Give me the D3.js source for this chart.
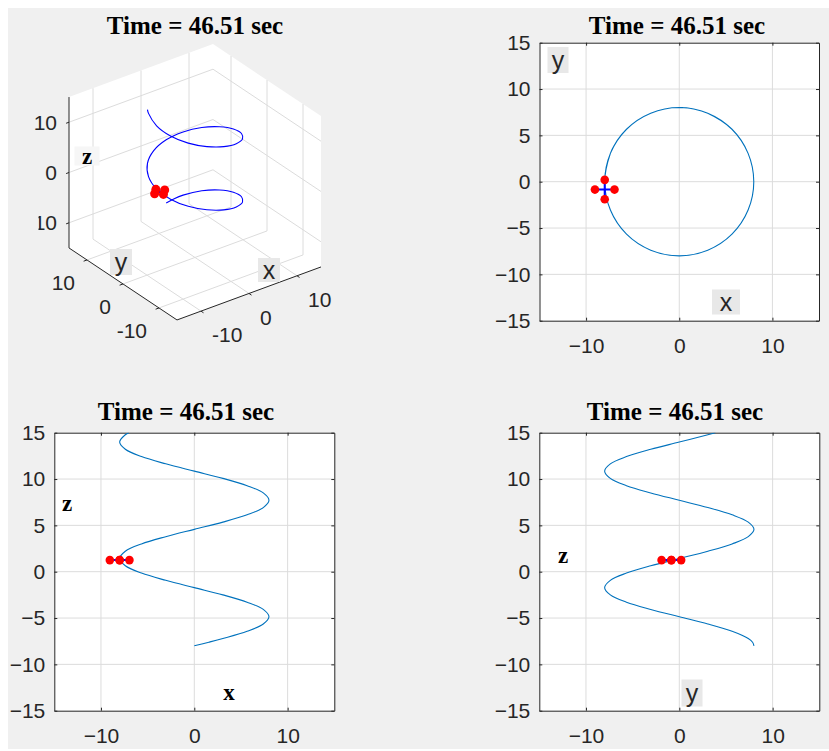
<!DOCTYPE html>
<html><head><meta charset="utf-8">
<script src="https://cdn.jsdelivr.net/npm/d3@7"></script>
<style>body{margin:0;background:#fff}svg{display:block}</style>
</head><body>
<script>
// ---------- data ----------
const trajX = [0, 1.56, 3.06, 5.66, 7.39, 8, 7.39, 5.66, 3.06, 0, -3.06, -5.66, -7.39, -8, -7.39, -5.66, -3.06, 0, 3.06, 5.66, 7.39, 8, 7.39, 5.66, 3.06, 0, -3.06, -5.66, -7.39, -8, -7.39, -7.0];
const trajY = [8, 7.85, 7.39, 5.66, 3.06, 0, -3.06, -5.66, -7.39, -8, -7.39, -5.66, -3.06, 0, 3.06, 5.66, 7.39, 8, 7.39, 5.66, 3.06, 0, -3.06, -5.66, -7.39, -8, -7.39, -5.66, -3.06, 0, 3.06, 3.87];
const trajZ = [-8.0, -7.61, -7.21, -6.43, -5.64, -4.86, -4.07, -3.29, -2.5, -1.72, -0.93, -0.15, 0.64, 1.42, 2.21, 3.0, 3.78, 4.57, 5.35, 6.14, 6.92, 7.71, 8.5, 9.28, 10.07, 10.85, 11.64, 12.42, 13.21, 13.99, 14.78, 15.0];
const rotorX = [-9.05, -6.95, -8.0, -8.0];
const rotorY = [-0.85, -0.85, 0.2, -1.9];
const rotorZ = [1.25, 1.25, 1.25, 1.25];
const titleText = "Time = 46.51 sec";
const limits = [-15, 15];
const hTicks = [-10, 0, 10];
const vTicks = [-15, -10, -5, 0, 5, 10, 15];
const ticks3D = [-10, 0, 10];

// ---------- styles ----------
const W = 829, H = 751;
const figBg = "#f0f0f0", axCol = "#262626", gridCol = "#dcdcdc";
const lineCol = "#0072bd", blue3D = "#0000ff", red = "#ff0000";
const tickFont = "'Liberation Sans', Arial, sans-serif";
const serif = "'Liberation Serif', 'Times New Roman', serif";
const tickSize = 21;

const svg = d3.select("body").append("svg").attr("width", W).attr("height", H);
svg.append("rect").attr("width", W).attr("height", H).attr("fill", "#fff");
svg.append("rect").attr("x", 8).attr("y", 8).attr("width", W - 8).attr("height", H - 10).attr("fill", figBg);
const defs = svg.append("defs");

function title(x, y) {
  svg.append("text").attr("x", x).attr("y", y).attr("text-anchor", "middle")
    .attr("font-family", serif).attr("font-weight", "bold").attr("font-size", 25)
    .attr("fill", "#000").text(titleText);
}
function label(x, y, txt, kind, bg, bw, bh) {
  if (bg) svg.append("rect").attr("x", x - bw / 2).attr("y", y - bh / 2).attr("width", bw).attr("height", bh).attr("fill", bg);
  const t = svg.append("text").attr("x", x).attr("y", y).attr("text-anchor", "middle").attr("dominant-baseline", "central").text(txt);
  if (kind === "serif") t.attr("font-family", serif).attr("font-weight", "bold").attr("font-size", 23).attr("fill", "#000");
  else t.attr("font-family", tickFont).attr("font-size", 25).attr("fill", axCol);
}

// ---------- 2D panels ----------
let clipId = 0;
function panel2D(o) {
  const xs = d3.scaleLinear().domain(limits).range([o.l, o.r]);
  const ys = d3.scaleLinear().domain(limits).range([o.b, o.t]);
  const g = svg.append("g");
  g.append("rect").attr("x", o.l).attr("y", o.t).attr("width", o.r - o.l).attr("height", o.b - o.t).attr("fill", "#fff");
  const grid = g.append("g").attr("stroke", gridCol).attr("stroke-width", 1);
  hTicks.forEach(v => grid.append("line").attr("x1", xs(v)).attr("x2", xs(v)).attr("y1", o.t).attr("y2", o.b));
  vTicks.slice(1, -1).forEach(v => grid.append("line").attr("y1", ys(v)).attr("y2", ys(v)).attr("x1", o.l).attr("x2", o.r));
  const style = sel => {
    sel.select(".domain").attr("stroke", axCol);
    sel.selectAll(".tick line").attr("stroke", axCol);
    sel.selectAll("text").attr("font-family", tickFont).attr("font-size", tickSize).attr("fill", axCol);
  };
  g.append("g").attr("transform", `translate(0,${o.b})`)
    .call(d3.axisBottom(xs).tickValues(hTicks).tickSizeInner(-3).tickSizeOuter(0).tickPadding(17).tickFormat(d3.format("d"))).call(style);
  g.append("g").attr("transform", `translate(0,${o.t})`)
    .call(d3.axisTop(xs).tickValues(hTicks).tickSizeInner(-3).tickSizeOuter(0).tickFormat("")).call(style);
  g.append("g").attr("transform", `translate(${o.l},0)`)
    .call(d3.axisLeft(ys).tickValues(vTicks).tickSizeInner(-3).tickSizeOuter(0).tickPadding(9).tickFormat(d3.format("d"))).call(style);
  g.append("g").attr("transform", `translate(${o.r},0)`)
    .call(d3.axisRight(ys).tickValues(vTicks).tickSizeInner(-3).tickSizeOuter(0).tickFormat("")).call(style);
  const id = "clip" + (clipId++);
  defs.append("clipPath").attr("id", id).append("rect").attr("x", o.l).attr("y", o.t).attr("width", o.r - o.l).attr("height", o.b - o.t);
  const pts = d3.range(trajX.length).map(i => [o.h[i], o.v[i]]);
  const line = d3.line().x(d => xs(d[0])).y(d => ys(d[1])).curve(d3.curveCatmullRom.alpha(0.5));
  const dg = g.append("g").attr("clip-path", `url(#${id})`);
  dg.append("path").attr("d", line(pts)).attr("fill", "none").attr("stroke", lineCol).attr("stroke-width", 1.1);
  [[0, 1], [2, 3]].forEach(([a, b]) => dg.append("line")
    .attr("x1", xs(o.rh[a])).attr("y1", ys(o.rv[a])).attr("x2", xs(o.rh[b])).attr("y2", ys(o.rv[b]))
    .attr("stroke", blue3D).attr("stroke-width", 2));
  dg.selectAll("circle.r").data(d3.range(4)).join("circle")
    .attr("cx", i => xs(o.rh[i])).attr("cy", i => ys(o.rv[i])).attr("r", 4.3).attr("fill", red);
  return { xs, ys };
}

// top-right: x-y
panel2D({ l: 539.5, r: 819, t: 42.7, b: 320.7, h: trajX, v: trajY, rh: rotorX, rv: rotorY });
title(677, 34);
label(558, 60, "y", "sans", "#e8e8e8", 21, 26);
label(726, 302, "x", "sans", "#e8e8e8", 28, 25);

// bottom-left: x-z
panel2D({ l: 54.3, r: 334.3, t: 432.7, b: 710.7, h: trajX, v: trajZ, rh: rotorX, rv: rotorZ });
title(186, 420);
label(67, 503, "z", "serif");
label(229, 692, "x", "serif");

// bottom-right: y-z
panel2D({ l: 539.3, r: 819.3, t: 432.7, b: 710.7, h: trajY, v: trajZ, rh: rotorY, rv: rotorZ });
title(675, 420);
label(563, 555, "z", "serif");
label(692, 693, "y", "sans", "#e8e8e8", 21, 27);

// ---------- 3D panel ----------
const cx = 195, cy = 182;
const px = d3.scaleLinear().domain([0, 1]).range([0, 4.8]);
const py = d3.scaleLinear().domain([0, 1]).range([0, -3.6]);
const pxv = d3.scaleLinear().domain([0, 1]).range([0, -1.767]);
const pyv = d3.scaleLinear().domain([0, 1]).range([0, -2.4]);
const pzv = d3.scaleLinear().domain([0, 1]).range([0, -5.03]);
const P = (x, y, z) => [cx + px(x) + py(y), cy + pxv(x) + pyv(y) + pzv(z)];
const L = limits[0], U = limits[1];
const g3 = svg.append("g");
defs.append("clipPath").attr("id", "clipz").append("rect").attr("x", 38.5).attr("y", 0).attr("width", 400).attr("height", 380);
const hex = [P(L, U, U), P(U, U, U), P(U, L, U), P(U, L, L), P(L, L, L), P(L, U, L)];
g3.append("polygon").attr("points", hex.map(p => p.join(",")).join(" ")).attr("fill", "#fff");
const seg = (a, b, col, w) => g3.append("line").attr("x1", a[0]).attr("y1", a[1]).attr("x2", b[0]).attr("y2", b[1]).attr("stroke", col).attr("stroke-width", w);
ticks3D.forEach(v => {
  seg(P(v, U, L), P(v, U, U), gridCol, 1);
  seg(P(L, U, v), P(U, U, v), gridCol, 1);
  seg(P(U, v, L), P(U, v, U), gridCol, 1);
  seg(P(U, L, v), P(U, U, v), gridCol, 1);
  seg(P(v, L, L), P(v, U, L), gridCol, 1);
  seg(P(L, v, L), P(U, v, L), gridCol, 1);
});
seg(P(L, U, L), P(L, U, U), axCol, 1);
seg(P(L, L, L), P(L, U, L), axCol, 1);
seg(P(L, L, L), P(U, L, L), axCol, 1);
const t3 = g3.append("g").attr("font-family", tickFont).attr("font-size", tickSize).attr("fill", axCol);
ticks3D.forEach(v => {
  const zp = P(L, U, v); seg(zp, P(L - 0.6, U, v), axCol, 1);
  const zt = t3.append("text").attr("x", zp[0] - 12).attr("y", zp[1]).attr("dy", "0.35em").attr("text-anchor", "end").text(v);
  if (v < 0) zt.attr("clip-path", "url(#clipz)");
  const yp = P(L, v, L); seg(yp, P(L - 0.7, v, L), axCol, 1);
  t3.append("text").attr("x", yp[0] - 12).attr("y", yp[1] + 23).attr("dy", "0.35em").attr("text-anchor", "end").text(v);
  const xp = P(v, L, L); seg(xp, P(v, L - 0.7, L), axCol, 1);
  t3.append("text").attr("x", xp[0] + 11).attr("y", xp[1] + 24).attr("dy", "0.35em").attr("text-anchor", "start").text(v);
});
const pts3 = d3.range(trajX.length).map(i => P(trajX[i], trajY[i], trajZ[i]));
g3.append("path").attr("d", d3.line().curve(d3.curveCatmullRom.alpha(0.5))(pts3))
  .attr("fill", "none").attr("stroke", blue3D).attr("stroke-width", 1.1);
[[0, 1], [2, 3]].forEach(([a, b]) => seg(P(rotorX[a], rotorY[a], rotorZ[a]), P(rotorX[b], rotorY[b], rotorZ[b]), blue3D, 2));
g3.selectAll("circle.r3").data(d3.range(4)).join("circle")
  .attr("cx", i => P(rotorX[i], rotorY[i], rotorZ[i])[0]).attr("cy", i => P(rotorX[i], rotorY[i], rotorZ[i])[1])
  .attr("r", 4.5).attr("fill", red);
title(195, 34);
label(87, 156, "z", "serif", "#f6f6f6", 25, 19);
label(121, 262, "y", "sans", "#e8e8e8", 22, 26);
label(269, 270, "x", "sans", "#e8e8e8", 22, 24);
</script>
</body></html>
